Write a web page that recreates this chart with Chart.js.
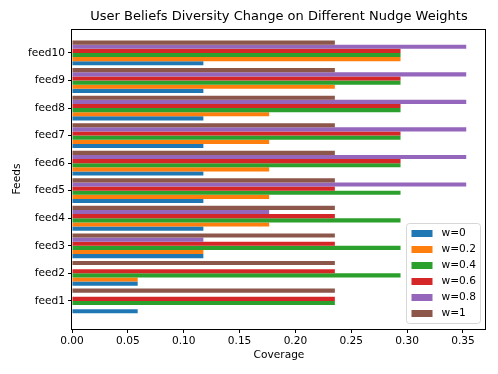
<!DOCTYPE html>
<html>
<head>
<meta charset="utf-8">
<script src="https://cdn.jsdelivr.net/npm/chart.js@4.4.0/dist/chart.umd.min.js"></script>
<style>
  html, body { margin: 0; padding: 0; background: #fff; }
</style>
</head>
<body>
<canvas id="chart" width="498" height="374"></canvas>
<script>
// feeds, bottom to top
const feeds = ['feed1', 'feed2', 'feed3', 'feed4', 'feed5', 'feed6', 'feed7', 'feed8', 'feed9', 'feed10'];
const weightLabels = ['w=0', 'w=0.2', 'w=0.4', 'w=0.6', 'w=0.8', 'w=1'];
const colors = ['#1f77b4', '#ff7f0e', '#2ca02c', '#d62728', '#9467bd', '#8c564b'];

// coverage per feed
const w0  = [0.0588, 0.0588, 0.1176, 0.1176, 0.1176, 0.1176, 0.1176, 0.1176, 0.1176, 0.1176];
const w02 = [0, 0.0588, 0.1176, 0.1765, 0.1765, 0.1765, 0.1765, 0.1765, 0.2353, 0.2941];
const w04 = [0.2353, 0.2941, 0.2941, 0.2941, 0.2941, 0.2941, 0.2941, 0.2941, 0.2941, 0.2941];
const w06 = [0.2353, 0.2353, 0.2353, 0.2353, 0.2353, 0.2941, 0.2941, 0.2941, 0.2941, 0.2941];
const w08 = [0, 0, 0.1176, 0.1765, 0.3529, 0.3529, 0.3529, 0.3529, 0.3529, 0.3529];
const w1  = [0.2353, 0.2353, 0.2353, 0.2353, 0.2353, 0.2353, 0.2353, 0.2353, 0.2353, 0.2353];

const xTicks = [0, 0.05, 0.1, 0.15, 0.2, 0.25, 0.3, 0.35];

const FONT = '"DejaVu Sans", sans-serif';
const seriesValues = [w0, w02, w04, w06, w08, w1];

// chart.js puts the first dataset on top of each group, so feed it reversed
const datasets = seriesValues.map((vals, k) => ({
    label: weightLabels[k],
    data: vals.map((v, i) => ({ x: v, y: i })),
    backgroundColor: colors[k],
    borderWidth: 0
})).reverse();

const titlePlugin = {
    id: 'axTitle',
    afterDraw(chart) {
        const { ctx, chartArea } = chart;
        ctx.save();
        ctx.font = '13px ' + FONT;
        ctx.fillStyle = '#000';
        ctx.textAlign = 'center';
        ctx.textBaseline = 'middle';
        ctx.fillText('User Beliefs Diversity Change on Different Nudge Weights',
            (chartArea.left + chartArea.right) / 2, 17);
        ctx.restore();
    }
};

const framePlugin = {
    id: 'frame',
    afterDatasetsDraw(chart) {
        const { ctx, chartArea: a } = chart;
        ctx.save();
        ctx.strokeStyle = '#000';
        ctx.lineWidth = 1;
        ctx.strokeRect(Math.round(a.left) - 0.5, Math.round(a.top) + 0.5,
            Math.round(a.right - a.left), Math.round(a.bottom - a.top));
        ctx.restore();
    }
};

const legendPlugin = {
    id: 'boxLegend',
    afterDraw(chart) {
        const { ctx, chartArea: a } = chart;
        const w = 74, h = 100;
        const x = a.right - 5.5 - w, y = a.bottom - 5.5 - h;
        ctx.save();
        ctx.beginPath();
        ctx.roundRect(x, y, w, h, 3);
        ctx.fillStyle = 'rgba(255,255,255,0.8)';
        ctx.fill();
        ctx.strokeStyle = '#d6d6d6';
        ctx.lineWidth = 1;
        ctx.stroke();
        ctx.font = '10.6px ' + FONT;
        ctx.textBaseline = 'middle';
        ctx.textAlign = 'left';
        weightLabels.forEach((lab, k) => {
            const cy = y + 10 + k * 16;
            ctx.fillStyle = colors[k];
            ctx.fillRect(x + 5, cy - 3.5, 21, 7);
            ctx.fillStyle = '#000';
            ctx.fillText(lab, x + 35, cy);
        });
        ctx.restore();
    }
};

new Chart(document.getElementById('chart'), {
    type: 'bar',
    data: { datasets },
    options: {
        indexAxis: 'y',
        responsive: false,
        animation: false,
        categoryPercentage: 0.9,
        barPercentage: 1.0,
        layout: { padding: { top: 29, right: 12, left: 0, bottom: 0 } },
        plugins: {
            legend: { display: false },
            tooltip: { enabled: false }
        },
        scales: {
            x: {
                type: 'linear',
                min: 0,
                max: 0.3706,
                afterBuildTicks: s => { s.ticks = xTicks.map(v => ({ value: v })); },
                afterFit: s => { s.height = 45; },
                grid: { drawOnChartArea: false, drawTicks: true, tickLength: 4, color: '#000', lineWidth: 1 },
                border: { display: false },
                ticks: {
                    color: '#000',
                    padding: 2,
                    maxRotation: 0,
                    font: { family: FONT, size: 10.6 },
                    callback: v => Number(v).toFixed(2)
                },
                title: {
                    display: true,
                    text: 'Coverage',
                    color: '#000',
                    font: { family: FONT, size: 10.6 },
                    padding: { top: 0, bottom: 12 }
                }
            },
            y: {
                type: 'linear',
                offset: false,
                min: -1.02,
                max: 9.87,
                afterBuildTicks: s => { s.ticks = feeds.map((f, i) => ({ value: i })); },
                afterFit: s => { s.width = 72; },
                grid: { offset: false, drawOnChartArea: false, drawTicks: true, tickLength: 4, color: '#000', lineWidth: 1 },
                border: { display: false },
                ticks: {
                    color: '#000',
                    padding: 3,
                    autoSkip: false,
                    font: { family: FONT, size: 10.6 },
                    callback: v => feeds[v]
                },
                title: {
                    display: true,
                    text: 'Feeds',
                    color: '#000',
                    font: { family: FONT, size: 10.6 },
                    padding: { top: 11, bottom: 0 }
                }
            }
        }
    },
    plugins: [titlePlugin, framePlugin, legendPlugin]
});
</script>
</body>
</html>
